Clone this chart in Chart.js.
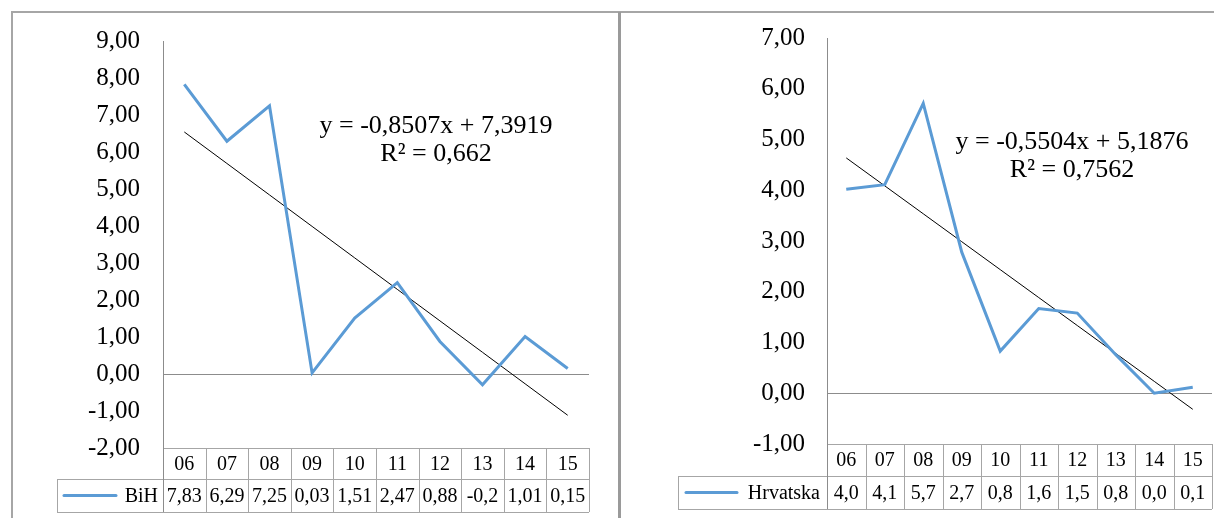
<!DOCTYPE html>
<html>
<head>
<meta charset="utf-8">
<script src="https://cdn.jsdelivr.net/npm/chart.js@4.4.1/dist/chart.umd.min.js"></script>
<style>
  body { margin: 0; background: #fff; width: 1214px; height: 518px; overflow: hidden; position: relative; }
  .frame { position: absolute; left: 11px; top: 11px; width: 1300px; height: 600px;
           border-left: 2px solid #a6a6a6; border-top: 2px solid #a6a6a6; }
  .divider { position: absolute; left: 618px; top: 12px; width: 3px; height: 506px; background: #9a9a9a; }
  canvas { position: absolute; }
  #bih { left: 13px; top: 13px; }
  #hr { left: 622px; top: 13px; }
</style>
</head>
<body>
<div class="frame"></div>
<div class="divider"></div>
<canvas id="bih" width="605" height="505"></canvas>
<canvas id="hr" width="592" height="505"></canvas>
<script>
// categories (years 2006-2015)
const years = ['06', '07', '08', '09', '10', '11', '12', '13', '14', '15'];

// BiH
const bihValues = [7.83, 6.29, 7.25, 0.03, 1.51, 2.47, 0.88, -0.29, 1.01, 0.15];
const bihTable = ['7,83', '6,29', '7,25', '0,03', '1,51', '2,47', '0,88', '-0,2', '1,01', '0,15'];
const bihTrend = [-0.8507, 7.3919];   // slope, intercept
const bihEq = ['y = -0,8507x + 7,3919', 'R² = 0,662'];

// Hrvatska
const hrValues = [4.02, 4.11, 5.71, 2.78, 0.83, 1.67, 1.58, 0.76, 0.0, 0.12];
const hrTable = ['4,0', '4,1', '5,7', '2,7', '0,8', '1,6', '1,5', '0,8', '0,0', '0,1'];
const hrTrend = [-0.5504, 5.1876];
const hrEq = ['y = -0,5504x + 5,1876', 'R² = 0,7562'];

const serif = '"Liberation Serif", "Times New Roman", serif';
const lineBlue = '#5b9bd5';
const gridGray = '#a6a6a6';

function trendLine(coef) {
    // excel linear trendline, x = 1..n
    return years.map((y, i) => coef[1] + coef[0] * (i + 1));
}

// draws the excel style data table under the plot + the trend equation
const tablePlugin = {
    id: 'dataTable',
    afterDraw(chart, args, opts) {
        const ctx = chart.ctx;
        const a = chart.chartArea;
        const x = chart.scales.x;
        const colW = (a.right - a.left) / years.length;
        const top = a.bottom;
        const mid = top + opts.headH;
        const bot = mid + opts.rowH;

        ctx.save();
        ctx.strokeStyle = gridGray;
        ctx.lineWidth = 1;
        ctx.beginPath();
        ctx.moveTo(a.left, top + 0.5); ctx.lineTo(a.right, top + 0.5);
        ctx.moveTo(opts.legendLeft, mid + 0.5); ctx.lineTo(a.right, mid + 0.5);
        ctx.moveTo(opts.legendLeft, bot + 0.5); ctx.lineTo(a.right, bot + 0.5);
        ctx.moveTo(opts.legendLeft + 0.5, mid); ctx.lineTo(opts.legendLeft + 0.5, bot);
        years.forEach((y, i) => {
            const xr = Math.round(x.getPixelForValue(i) + colW / 2) + 0.5;
            ctx.moveTo(xr, top); ctx.lineTo(xr, bot);
        });
        ctx.stroke();

        // axis line continues through the table
        ctx.strokeStyle = '#8c8c8c';
        ctx.beginPath();
        ctx.moveTo(a.left + 0.5, top); ctx.lineTo(a.left + 0.5, bot);
        ctx.stroke();

        ctx.fillStyle = '#000';
        ctx.textAlign = 'center';
        ctx.textBaseline = 'middle';
        ctx.font = '20px ' + serif;
        years.forEach((y, i) => {
            const cx = x.getPixelForValue(i);
            ctx.fillText(y, cx, (top + mid) / 2 + 1);
            ctx.fillText(opts.labels[i], cx, (mid + bot) / 2 + 1);
        });

        // legend key
        ctx.strokeStyle = lineBlue;
        ctx.lineWidth = 3;
        ctx.lineCap = 'round';
        ctx.beginPath();
        ctx.moveTo(opts.keyX[0], (mid + bot) / 2);
        ctx.lineTo(opts.keyX[1], (mid + bot) / 2);
        ctx.stroke();
        ctx.textAlign = 'right';
        ctx.fillText(opts.name, a.left - opts.nameGap, (mid + bot) / 2 + 1);

        // trendline equation
        ctx.textAlign = 'center';
        ctx.font = '26px ' + serif;
        ctx.fillText(opts.eq[0], opts.eqX, opts.eqY);
        ctx.fillText(opts.eq[1], opts.eqX, opts.eqY + 28);
        ctx.restore();
    }
};

function makeChart(id, name, values, trendCoef, tableLabels, eq, yMin, yMax, cfg) {
    return new Chart(document.getElementById(id), {
        type: 'line',
        data: {
            labels: years,
            datasets: [{
                label: name,
                data: values,
                borderColor: lineBlue,
                borderWidth: 3,
                pointRadius: 0,
                tension: 0,
                fill: false
            }, {
                label: 'trend',
                data: trendLine(trendCoef),
                borderColor: '#000',
                borderWidth: 1,
                pointRadius: 0,
                tension: 0,
                fill: false
            }]
        },
        options: {
            responsive: false,
            animation: false,
            layout: { padding: cfg.padding },
            plugins: {
                legend: { display: false },
                tooltip: { enabled: false },
                dataTable: {
                    labels: tableLabels,
                    name: name,
                    eq: eq,
                    headH: cfg.headH,
                    rowH: cfg.rowH,
                    legendLeft: cfg.legendLeft,
                    keyX: cfg.keyX,
                    nameGap: cfg.nameGap,
                    eqX: cfg.eqX,
                    eqY: cfg.eqY
                }
            },
            scales: {
                x: { display: false, offset: true },
                y: {
                    min: yMin,
                    max: yMax,
                    afterFit(scale) { scale.width = cfg.axisW; },
                    ticks: {
                        stepSize: 1,
                        padding: 0,
                        color: '#000',
                        font: { family: serif, size: 25 },
                        callback: v => v.toFixed(2).replace('.', ',')
                    },
                    border: { display: true, color: '#8c8c8c', width: 1 },
                    grid: {
                        // invisible tick marks just to keep the label gap
                        drawTicks: true,
                        tickLength: cfg.tickPad,
                        tickColor: 'rgba(0,0,0,0)',
                        color: c => c.tick && c.tick.value === 0 ? '#8c8c8c' : 'rgba(0,0,0,0)'
                    }
                }
            }
        },
        plugins: [tablePlugin]
    });
}

makeChart('bih', 'BiH', bihValues, bihTrend, bihTable, bihEq, -2, 9, {
    padding: { left: 0, top: 28, right: 29, bottom: 70 },
    axisW: 150, tickPad: 23,
    headH: 31, rowH: 33,
    legendLeft: 44, keyX: [51, 103], nameGap: 5,
    eqX: 423, eqY: 113
});

makeChart('hr', 'Hrvatska', hrValues, hrTrend, hrTable, hrEq, -1, 7, {
    padding: { left: 0, top: 25, right: 2, bottom: 74 },
    axisW: 205, tickPad: 22,
    headH: 32, rowH: 33,
    legendLeft: 56, keyX: [64, 115], nameGap: 7,
    eqX: 450, eqY: 129
});
</script>
</body>
</html>
